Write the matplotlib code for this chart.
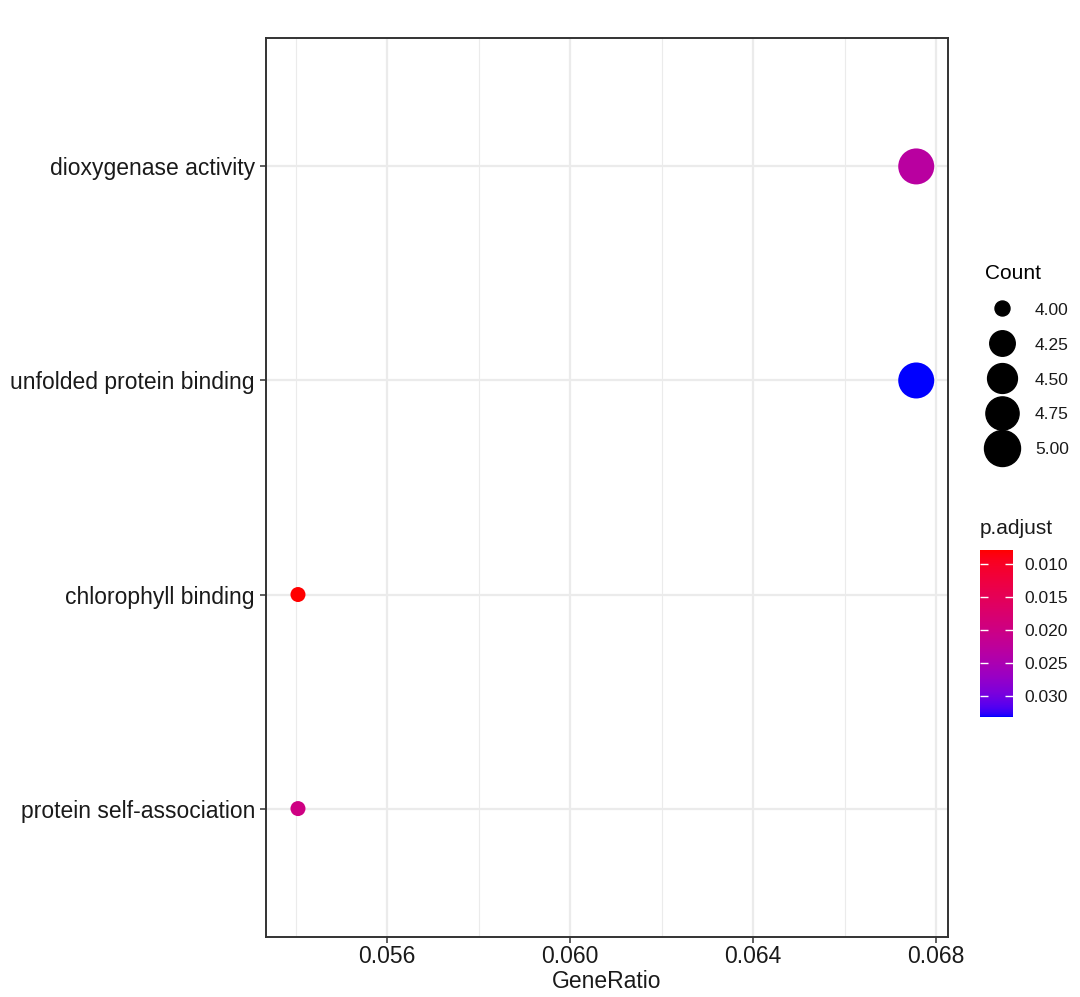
import numpy as np
import matplotlib
matplotlib.use('Agg')
import matplotlib.pyplot as plt
from matplotlib.colors import ListedColormap, Normalize
from matplotlib.lines import Line2D

plt.rcParams['font.family'] = ['Liberation Sans', 'DejaVu Sans']

# %%
# Data (top to bottom)
terms = ['dioxygenase activity', 'unfolded protein binding',
         'chlorophyll binding', 'protein self-association']
gene_ratio = [5 / 74, 5 / 74, 4 / 74, 4 / 74]
counts = [5, 5, 4, 4]
p_adjust = [0.0232, 0.0332, 0.0079, 0.0198]

size_breaks = [4.00, 4.25, 4.50, 4.75, 5.00]
x_ticks = [0.056, 0.060, 0.064, 0.068]
x_minor = [0.054, 0.058, 0.062, 0.066]
cb_ticks = [0.010, 0.015, 0.020, 0.025, 0.030]


# %%
# red -> blue gradient interpolated in Lab space like ggplot
def srgb_to_lab(rgb):
    c = np.array(rgb, dtype=float)
    lin = np.where(c <= 0.04045, c / 12.92, ((c + 0.055) / 1.055) ** 2.4)
    m = np.array([[0.4124, 0.3576, 0.1805],
                  [0.2126, 0.7152, 0.0722],
                  [0.0193, 0.1192, 0.9505]])
    xyz = m @ lin / np.array([0.9505, 1.0, 1.089])
    f = np.where(xyz > 0.008856, np.cbrt(xyz), 7.787 * xyz + 16 / 116)
    return np.array([116 * f[1] - 16, 500 * (f[0] - f[1]), 200 * (f[1] - f[2])])


def lab_to_srgb(lab):
    L, a, b = lab
    fy = (L + 16) / 116
    fx = fy + a / 500
    fz = fy - b / 200
    f = np.array([fx, fy, fz])
    xyz = np.where(f ** 3 > 0.008856, f ** 3, (f - 16 / 116) / 7.787)
    xyz = xyz * np.array([0.9505, 1.0, 1.089])
    m = np.array([[3.2406, -1.5372, -0.4986],
                  [-0.9689, 1.8758, 0.0415],
                  [0.0557, -0.2040, 1.0570]])
    lin = np.clip(m @ xyz, 0, 1)
    c = np.where(lin <= 0.0031308, 12.92 * lin, 1.055 * lin ** (1 / 2.4) - 0.055)
    return np.clip(c, 0, 1)


lab_red = srgb_to_lab([1, 0, 0])
lab_blue = srgb_to_lab([0, 0, 1])
cmap = ListedColormap([lab_to_srgb(lab_red + t * (lab_blue - lab_red))
                       for t in np.linspace(0, 1, 256)])
norm = Normalize(vmin=min(p_adjust), vmax=max(p_adjust))


# ggplot area_pal style sizes (diameter in px)
def diam(c, dmin=15.0, dmax=36.0):
    t = (np.asarray(c, dtype=float) - 4) / (5 - 4)
    return dmin + (dmax - dmin) * np.sqrt(t)


# %%
fig = plt.figure(figsize=(10.8, 9.97), dpi=100)
ax = fig.add_axes([266 / 1080, 60 / 997, 682 / 1080, 899 / 997])

ypos = np.arange(len(terms))[::-1] + 1
d_px = diam(counts)
ax.scatter(gene_ratio, ypos, s=(d_px * 0.72) ** 2, c=p_adjust, cmap=cmap,
           norm=norm, edgecolors='none', zorder=3)

ax.set_xlim(0.053355, 0.068262)
ax.set_ylim(0.4, 4.6)
ax.set_xticks(x_ticks)
ax.set_xticklabels(['%.3f' % v for v in x_ticks])
ax.set_xticks(x_minor, minor=True)
ax.set_yticks(ypos)
ax.set_yticklabels(terms)

ax.grid(which='major', color='#EBEBEB', linewidth=1.6, zorder=0)
ax.grid(which='minor', axis='x', color='#EBEBEB', linewidth=0.8, zorder=0)
ax.set_axisbelow(True)
for sp in ax.spines.values():
    sp.set_color('#333333')
    sp.set_linewidth(1.4)
ax.tick_params(which='major', length=4, width=1.1, color='#333333',
               labelsize=16.5, labelcolor='#1a1a1a', pad=4)
ax.tick_params(axis='x', pad=2)
ax.tick_params(which='minor', length=0)
ax.set_xlabel('GeneRatio', fontsize=16.5, color='#1a1a1a', labelpad=1)

# %%
# Count legend
handles = [Line2D([], [], marker='o', linestyle='', color='black',
                  markersize=float(diam(b)) * 0.72) for b in size_breaks]
leg = fig.legend(handles, ['%.2f' % b for b in size_breaks], title='Count',
                 loc='upper left', bbox_to_anchor=(976 / 1080, 1 - 255 / 997),
                 frameon=False, fontsize=12.5, title_fontsize=15,
                 labelspacing=1.05, handleheight=1.0, handlelength=2.05,
                 handletextpad=0.85, borderpad=0, alignment='left')
for t in leg.get_texts():
    t.set_color('#1a1a1a')

# p.adjust colour bar
cax = fig.add_axes([980 / 1080, 280 / 997, 33 / 1080, 167 / 997])
cb = fig.colorbar(plt.cm.ScalarMappable(norm=norm, cmap=cmap), cax=cax)
cax.invert_yaxis()
cb.outline.set_visible(False)
cb.set_ticks(cb_ticks)
cb.set_ticklabels(['%.3f' % v for v in cb_ticks])
cax.tick_params(direction='in', color='white', left=True, right=True,
                length=6, width=1.0, labelsize=12.5, labelcolor='#1a1a1a', pad=8.5)
fig.text(980 / 1080, 1 - 528 / 997, 'p.adjust', fontsize=15,
         color='#1a1a1a', va='center', ha='left')

fig.savefig('out.png', dpi=100)
